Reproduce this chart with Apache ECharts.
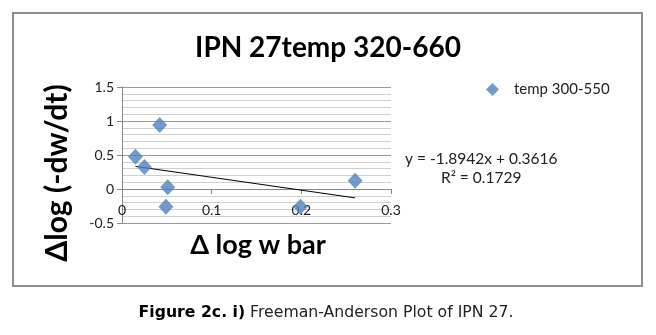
<!DOCTYPE html>
<html><head><meta charset="utf-8">
<script src="https://cdn.jsdelivr.net/npm/echarts@6/dist/echarts.min.js"></script>
<style>html,body{margin:0;padding:0;background:#fff}#c{width:656px;height:335px}</style>
</head><body><div id="c"></div><script>
// ---- data ----
const titleText = 'IPN 27temp 320-660';
const seriesName = 'temp 300-550';
const xName = 'Δ log w bar';
const yName = 'Δlog (-dw/dt)';
const xValues = [0.015, 0.025, 0.042, 0.051, 0.049, 0.199, 0.260];
const yValues = [0.475, 0.324, 0.94, 0.025, -0.26, -0.26, 0.122];
const trendSlope = -1.8942;
const trendIntercept = 0.3616;
const trendXRange = [0.015, 0.260];
const equationText = 'y = -1.8942x + 0.3616';
const r2Text = 'R² = 0.1729';
const captionBold = 'Figure 2c. i)';
const captionRest = ' Freeman-Anderson Plot of IPN 27.';

const FONT = 'Lato, "Open Sans", sans-serif';
const points = xValues.map((x, i) => [x, yValues[i]]);
const trend = trendXRange.map(x => [x, trendSlope * x + trendIntercept]);

const chart = echarts.init(document.getElementById('c'));
chart.setOption({
  animation: false,
  backgroundColor: '#fff',
  textStyle: { fontFamily: FONT },
  title: {
    text: titleText, left: 'center', top: 29,
    textStyle: { fontFamily: FONT, fontWeight: 'bold', fontSize: 28, color: '#000' }
  },
  legend: {
    data: [seriesName], left: 481, top: 77, icon: 'diamond',
    itemWidth: 13, itemHeight: 13, itemGap: 8,
    textStyle: { fontFamily: FONT, fontSize: 15, color: '#222', padding: [0, 0, 0, 10] }
  },
  grid: { left: 122, top: 87, right: 265, bottom: 112, containLabel: false },
  xAxis: {
    type: 'value', min: 0, max: 0.3, interval: 0.1,
    offset: -34,
    axisLine: { show: true, onZero: false, lineStyle: { color: '#868686', width: 1 } },
    axisTick: { show: true, length: 5, lineStyle: { color: '#868686' } },
    axisLabel: { margin: 14, fontSize: 14, color: '#222', fontFamily: FONT,
      formatter: v => String(+v.toFixed(1)) },
    splitLine: { show: false }
  },
  yAxis: {
    type: 'value', min: -0.5, max: 1.5, interval: 0.5,
    axisLine: { show: true, onZero: false, lineStyle: { color: '#868686', width: 1 } },
    axisTick: { show: true, length: 5, lineStyle: { color: '#868686' } },
    axisLabel: { margin: 8, fontSize: 14, color: '#222', fontFamily: FONT,
      formatter: v => String(+v.toFixed(1)) },
    splitLine: { show: true, lineStyle: { color: '#9a9a9a', width: 1 } },
    minorSplitLine: { show: true, lineStyle: { color: '#cfcfcf', width: 1 } },
    minorTick: { show: false, splitNumber: 5 }
  },
  series: [
    {
      name: seriesName, type: 'scatter', data: points,
      symbol: 'diamond', symbolSize: [15, 16],
      itemStyle: { color: '#4f81bd' }, z: 3
    },
    {
      name: 'trend', type: 'line', data: trend, showSymbol: false, symbol: 'none',
      lineStyle: { color: '#000', width: 1 }, z: 2, silent: true
    }
  ],
  graphic: [
    { type: 'rect', shape: { x: 13, y: 13, width: 629, height: 273 },
      style: { fill: null, stroke: '#8e8e8e', lineWidth: 2 }, silent: true },
    { type: 'text', x: 57, y: 173, rotation: Math.PI / 2,
      style: { text: yName, font: 'bold 30px ' + FONT, fill: '#000', align: 'center', verticalAlign: 'middle' } },
    { type: 'text', x: 258, y: 245,
      style: { text: xName, font: 'bold 27px ' + FONT, fill: '#000', align: 'center', verticalAlign: 'middle' } },
    { type: 'text', x: 405, y: 159,
      style: { text: equationText, font: '15.5px ' + FONT, fill: '#222', align: 'left', verticalAlign: 'middle' } },
    { type: 'text', x: 441, y: 178,
      style: { text: r2Text, font: '15.5px ' + FONT, fill: '#222', align: 'left', verticalAlign: 'middle' } },
    { type: 'text', x: 326, y: 313,
      style: { text: '{b|' + captionBold + '}{r|' + captionRest + '}', align: 'center', verticalAlign: 'middle',
        rich: {
          b: { font: 'bold 15.7px "DejaVu Sans", sans-serif', fill: '#000' },
          r: { font: '15.7px "DejaVu Sans", sans-serif', fill: '#222' }
        } } }
  ]
});
</script></body></html>
